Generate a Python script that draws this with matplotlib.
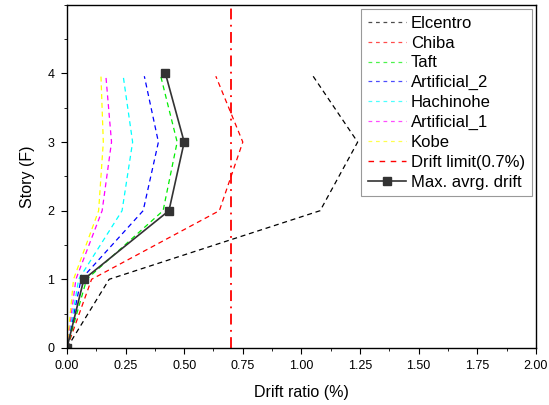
import numpy as np
import matplotlib.pyplot as plt
from matplotlib.lines import Line2D

plt.rcParams['font.family'] = ['Liberation Sans', 'DejaVu Sans']

# 层数
story = [0, 1, 2, 3, 4]
story_top = [0, 1, 2, 3, 3.96]

# 各地震波层间位移角 (%)
elcentro = [0, 0.18, 1.08, 1.24, 1.05]
chiba = [0, 0.105, 0.65, 0.75, 0.635]
taft = [0, 0.084, 0.41, 0.47, 0.40]
artificial_2 = [0, 0.06, 0.325, 0.39, 0.33]
hachinohe = [0, 0.05, 0.235, 0.28, 0.24]
artificial_1 = [0, 0.038, 0.15, 0.19, 0.166]
kobe = [0, 0.028, 0.135, 0.155, 0.145]
max_avg = [0, 0.072, 0.435, 0.50, 0.42]
drift_limit = 0.7

names = ["Elcentro", "Chiba", "Taft", "Artificial_2", "Hachinohe", "Artificial_1", "Kobe"]
series = [elcentro, chiba, taft, artificial_2, hachinohe, artificial_1, kobe]
colors = ["black", "red", "#00ee00", "blue", "cyan", "magenta", "yellow"]

fig = plt.figure(figsize=(5.49, 4.05), dpi=100)
ax = fig.add_axes([0.122, 0.141, 0.854, 0.847])

handles = []
for name, vals, c in zip(names, series, colors):
    ax.plot(vals, story_top, color=c, ls=(0, (4, 3)), lw=0.9)
    handles.append(Line2D([], [], color=c, ls=(0, (3, 3)), lw=0.9, alpha=0.7, label=name))

ax.axvline(drift_limit, color="red", ls=(0, (6, 3, 1, 3)), lw=1.3)
handles.append(Line2D([], [], color="red", ls=(0, (4, 4)), lw=1.0, label="Drift limit(0.7%)"))

ax.plot(max_avg, story, color="#333333", lw=1.2, marker="s", ms=6)
handles.append(Line2D([], [], color="#333333", lw=1.2, marker="s", ms=6, label="Max. avrg. drift"))

ax.set_xlim(0, 2.0)
ax.set_ylim(0, 5)
ax.set_xticks(np.arange(0, 2.01, 0.25))
ax.set_xticks(np.arange(0, 2.01, 0.125), minor=True)
ax.set_yticks([0, 1, 2, 3, 4])
ax.set_yticks(np.arange(0, 5.01, 0.5), minor=True)
ax.tick_params(direction="out", length=4, labelsize=9, pad=5)
ax.tick_params(which="minor", direction="out", length=2.5)
for s in ax.spines.values():
    s.set_linewidth(1.0)

ax.set_xlabel("Drift ratio (%)", fontsize=11.5, labelpad=9)
ax.set_ylabel("Story (F)", fontsize=11.5, labelpad=9)

leg = ax.legend(handles=handles, loc="upper right", fontsize=12, fancybox=False,
                framealpha=1, edgecolor="#999999", borderaxespad=0.25,
                handlelength=2.3, handletextpad=0.3, labelspacing=0.29, borderpad=0.4)
leg.get_frame().set_linewidth(0.8)

fig.savefig("out.png", dpi=100)
